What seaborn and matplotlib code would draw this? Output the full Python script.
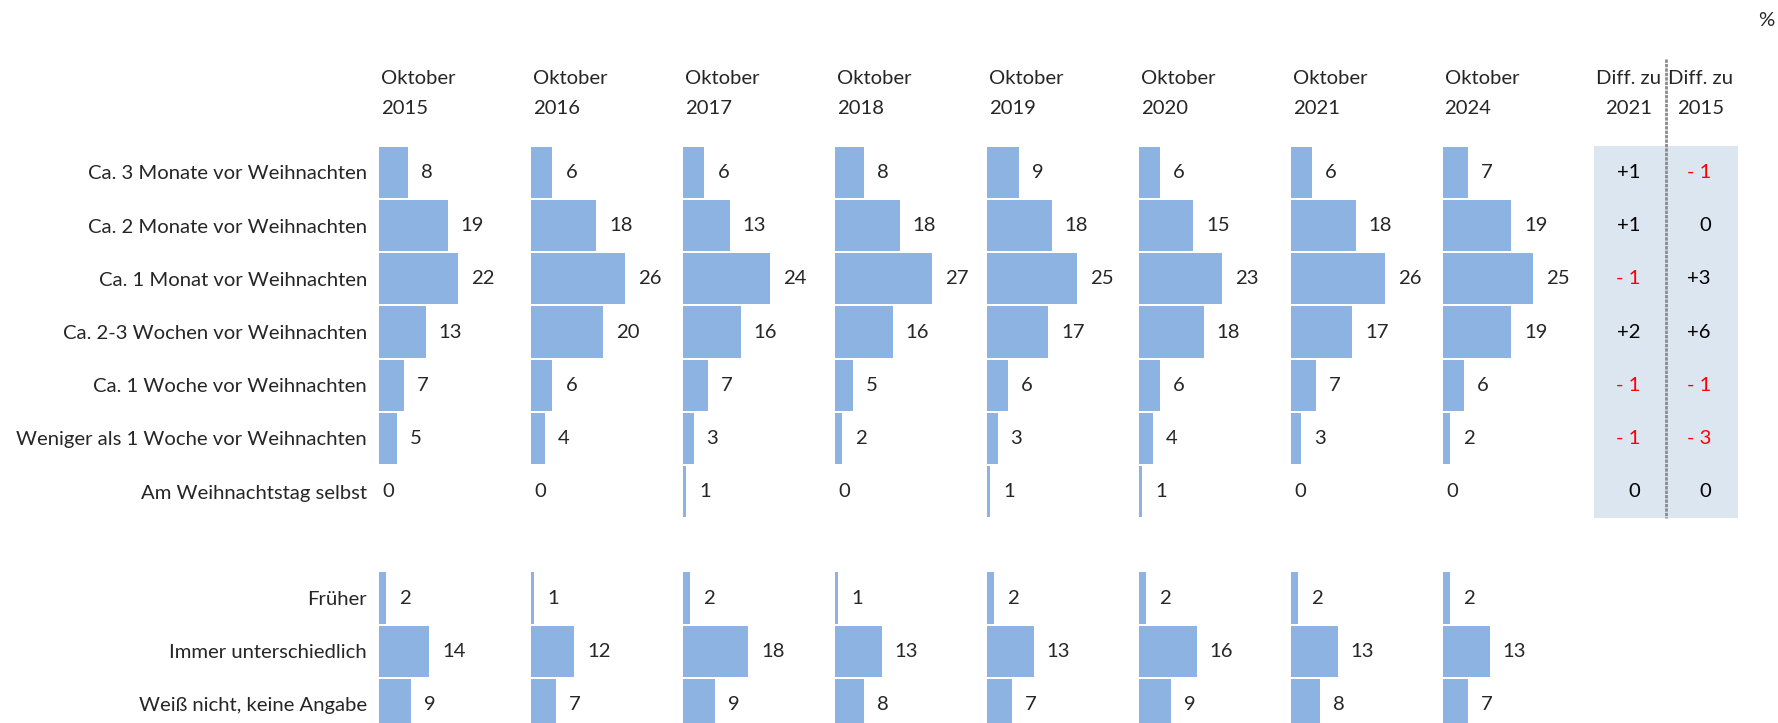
import pandas as pd
import numpy as np
import matplotlib.pyplot as plt
import seaborn as sns

# Kategorien (oben / unten)
cats_top = ['Ca. 3 Monate vor Weihnachten', 'Ca. 2 Monate vor Weihnachten', 'Ca. 1 Monat vor Weihnachten',
            'Ca. 2-3 Wochen vor Weihnachten', 'Ca. 1 Woche vor Weihnachten',
            'Weniger als 1 Woche vor Weihnachten', 'Am Weihnachtstag selbst']
cats_bottom = ['Früher', 'Immer unterschiedlich', 'Weiß nicht, keine Angabe']

years = ['2015', '2016', '2017', '2018', '2019', '2020', '2021', '2024']
top_2015 = [8, 19, 22, 13, 7, 5, 0]
top_2016 = [6, 18, 26, 20, 6, 4, 0]
top_2017 = [6, 13, 24, 16, 7, 3, 1]
top_2018 = [8, 18, 27, 16, 5, 2, 0]
top_2019 = [9, 18, 25, 17, 6, 3, 1]
top_2020 = [6, 15, 23, 18, 6, 4, 1]
top_2021 = [6, 18, 26, 17, 7, 3, 0]
top_2024 = [7, 19, 25, 19, 6, 2, 0]
bot_2015 = [2, 14, 9]
bot_2016 = [1, 12, 7]
bot_2017 = [2, 18, 9]
bot_2018 = [1, 13, 8]
bot_2019 = [2, 13, 7]
bot_2020 = [2, 16, 9]
bot_2021 = [2, 13, 8]
bot_2024 = [2, 13, 7]
tops = [top_2015, top_2016, top_2017, top_2018, top_2019, top_2020, top_2021, top_2024]
bots = [bot_2015, bot_2016, bot_2017, bot_2018, bot_2019, bot_2020, bot_2021, bot_2024]

diff_2021 = [1, 1, -1, 2, -1, -1, 0]
diff_2015 = [-1, 0, 3, 6, -1, -3, 0]

sns.set_style('white')
plt.rcParams['font.family'] = ['Lato', 'DejaVu Sans']
FS = 14.6

W, H = 1778, 723
fig = plt.figure(figsize=(W / 100, H / 100), dpi=100)

bar_color = '#8DB3E2'
row0 = 172.4      # Pixel-Mitte erste Zeile
rowh = 53.2       # Zeilenabstand
ylim = ((H - row0) / rowh, -row0 / rowh)
pxunit = 3.62
panel_w = 150

order = cats_top + [' '] + cats_bottom

def fmt(d):
    if d > 0:
        return '+%d' % d
    if d < 0:
        return '- %d' % abs(d)
    return '0'

for i, yr in enumerate(years):
    left = 378.8 + i * 151.96
    ax = fig.add_axes([left / W, 0, panel_w / W, 1])
    vals = tops[i] + [0] + bots[i]
    df = pd.DataFrame({'cat': order, 'val': vals})
    sns.barplot(data=df, x='val', y='cat', order=order, color=bar_color, saturation=1,
                width=0.96, linewidth=0, ax=ax)
    ax.set_xlim(0, panel_w / pxunit)
    ax.set_ylim(*ylim)
    ax.set_xlabel('')
    ax.set_ylabel('')
    ax.set_xticks([])
    for s in ax.spines.values():
        s.set_visible(False)
    ax.patch.set_alpha(0)
    if i == 0:
        ax.tick_params(axis='y', left=False, pad=5, labelsize=FS)
    else:
        ax.set_yticks([])
    for j, (c, v) in enumerate(zip(order, vals)):
        if c == ' ':
            continue
        ax.annotate(str(v), (v, j), xytext=(4 if v == 0 else 13, 0), textcoords='offset pixels',
                    ha='left', va='center', fontsize=FS)
    ax.text(2 / pxunit, (78 - row0) / rowh, 'Oktober', ha='left', va='center', fontsize=FS)
    ax.text(2 / pxunit, (109 - row0) / rowh, yr, ha='left', va='center', fontsize=FS)

# Differenz-Tabelle
tx0, tx1 = 1594, 1738
tax = fig.add_axes([tx0 / W, 0, (tx1 - tx0) / W, 1])
tax.set_xlim(tx0, tx1)
tax.set_ylim(*ylim)
tax.axis('off')
tax.add_patch(plt.Rectangle((tx0, -0.5), tx1 - tx0, 7, color='#DCE6F1', lw=0, zorder=0))
tax.plot([1666, 1666], [(59 - row0) / rowh, 6.5], color='#8C8C8C', lw=2.0, ls=(0, (1.2, 0.4)), zorder=2)
tax.text(1629, (78 - row0) / rowh, 'Diff. zu', ha='center', va='center', fontsize=FS)
tax.text(1629, (109 - row0) / rowh, '2021', ha='center', va='center', fontsize=FS)
tax.text(1701, (78 - row0) / rowh, 'Diff. zu', ha='center', va='center', fontsize=FS)
tax.text(1701, (109 - row0) / rowh, '2015', ha='center', va='center', fontsize=FS)
for j in range(len(cats_top)):
    d1, d2 = diff_2021[j], diff_2015[j]
    tax.text(1640, j, fmt(d1), ha='right', va='center', fontsize=FS,
             color='red' if d1 < 0 else 'black')
    tax.text(1711, j, fmt(d2), ha='right', va='center', fontsize=FS,
             color='red' if d2 < 0 else 'black')

fig.text(1766 / W, 1 - 20 / H, '%', ha='center', va='center', fontsize=FS)

fig.savefig('out.png', dpi=100)
